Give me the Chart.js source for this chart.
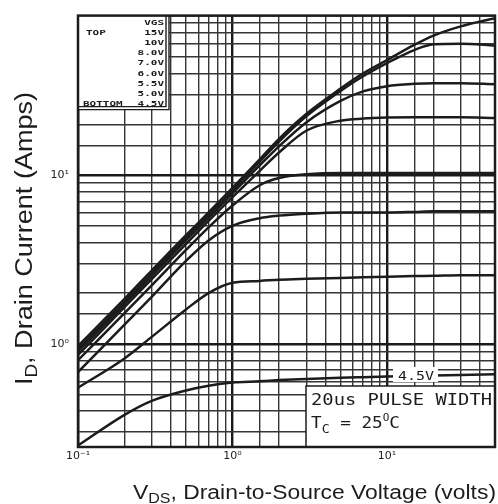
<!DOCTYPE html>
<html>
<head>
<meta charset="utf-8">
<script src="https://cdn.jsdelivr.net/npm/chart.js@4.4.1/dist/chart.umd.min.js"></script>
<style>
    html, body { margin: 0; padding: 0; background: #fff; }
    #outputChart { display: block; }
</style>
</head>
<body>
<canvas id="outputChart" width="498" height="504"></canvas>
<script>
"use strict";

/** DATA */

// Drain-to-source voltage (volts)
const VDS = [0.1, 0.2, 0.3, 0.5, 0.7, 1, 1.5, 2, 3, 5, 7, 10, 15, 20, 30, 50];

// Drain current (amps), one list per gate voltage
const ID_15V  = [0.97, 1.85, 2.72, 4.4, 6.0, 8.4, 12.4, 16.4, 23, 32.5, 40, 48, 59, 67, 76, 85];
const ID_10V  = [0.93, 1.78, 2.62, 4.25, 5.8, 8.1, 12.0, 15.8, 22.3, 31.5, 38.5, 46, 55, 59.5, 60, 58.5];
const ID_8V   = [0.9, 1.72, 2.53, 4.1, 5.6, 7.8, 11.4, 14.8, 20.5, 27.5, 31.3, 33.6, 34.7, 35, 35, 34.5];
const ID_7V   = [0.86, 1.65, 2.42, 3.9, 5.35, 7.4, 10.6, 13.6, 18.3, 21, 21.6, 21.9, 22, 22, 22, 21.8];
const ID_6V   = [0.8, 1.52, 2.22, 3.6, 4.9, 6.6, 8.7, 9.6, 10.1, 10.3, 10.3, 10.3, 10.3, 10.3, 10.3, 10.3];
const ID_5V5  = [0.68, 1.3, 1.9, 3.1, 4.1, 5.0, 5.55, 5.75, 5.9, 6.0, 6.0, 6.0, 6.05, 6.1, 6.1, 6.1];
const ID_5V   = [0.55, 0.82, 1.1, 1.6, 2.0, 2.3, 2.36, 2.4, 2.43, 2.46, 2.48, 2.5, 2.52, 2.53, 2.55, 2.55];
const ID_4V5  = [0.25, 0.38, 0.46, 0.53, 0.565, 0.59, 0.6, 0.61, 0.62, 0.63, 0.635, 0.64, 0.645, 0.65, 0.655, 0.66];

const SERIES = [ID_15V, ID_10V, ID_8V, ID_7V, ID_6V, ID_5V5, ID_5V, ID_4V5];
const VGS_LABELS = ['15V', '10V', '8.0V', '7.0V', '6.0V', '5.5V', '5.0V', '4.5V'];

// Axis ranges
const X_MIN = 0.1;
const X_MAX = 50;
const Y_MIN = 0.245;
const Y_MAX = 88;

const INK = '#1c1c1c';
const GRID = '#363636';


/** HELPERS */

const isDecade = v => Math.abs(Math.log10(v) - Math.round(Math.log10(v))) < 1e-9;

const SUP = { '-': '\u207B', '0': '\u2070', '1': '\u00B9', '2': '\u00B2', '3': '\u00B3' };
const decadeLabel = v => '10' + String(Math.round(Math.log10(v))).split('').map(c => SUP[c]).join('');

// Draw pieces of text one after the other, stretched to a given run length
const drawTextRun = (ctx, pieces, length, family) => {
    const fontOf = p => `${ p.weight || 'normal' } ${ p.size }px ${ family }`;
    const widthOf = p => { ctx.font = fontOf(p); return ctx.measureText(p.text).width; };
    const natural = pieces.reduce((sum, p) => sum + widthOf(p), 0);
    ctx.save();
    ctx.scale(length ? length / natural : 1, 1);
    let cx = 0;
    pieces.forEach(p => {
        ctx.font = fontOf(p);
        ctx.fillText(p.text, cx, p.dy || 0);
        cx += ctx.measureText(p.text).width;
    });
    ctx.restore();
};

// Wide, squat plotter-style text for the legend box
const drawSquat = (ctx, text, x, y, align) => {
    ctx.save();
    ctx.translate(x, y);
    ctx.scale(1, 0.62);
    ctx.textAlign = align;
    ctx.fillText(text, 0, 0);
    ctx.restore();
};


/** ANNOTATIONS PLUGIN */

const datasheetPlugin = {
    id: 'datasheet',
    beforeDraw: chart => {
        const ctx = chart.ctx;
        ctx.save();
        ctx.fillStyle = '#ffffff';
        ctx.fillRect(0, 0, chart.width, chart.height);
        ctx.restore();
    },
    afterDatasetsDraw: chart => {
        const ctx = chart.ctx;
        const area = chart.chartArea;
        ctx.save();
        ctx.fillStyle = INK;
        ctx.strokeStyle = INK;
        ctx.textBaseline = 'alphabetic';

        // Gate voltage legend box (top left)
        const bx = area.left, by = area.top, bw = 91, bh = 94;
        ctx.fillStyle = '#ffffff';
        ctx.fillRect(bx, by, bw, bh);
        ctx.lineWidth = 1.4;
        ctx.beginPath();
        ctx.moveTo(bx + bw - 3, by); ctx.lineTo(bx + bw - 3, by + bh - 3); ctx.lineTo(bx, by + bh - 3);
        ctx.moveTo(bx + bw, by); ctx.lineTo(bx + bw, by + bh); ctx.lineTo(bx, by + bh);
        ctx.stroke();

        ctx.fillStyle = INK;
        ctx.font = 'bold 11px "DejaVu Sans Mono"';
        ctx.textBaseline = 'middle';
        drawSquat(ctx, 'VGS', bx + 86, by + 8, 'right');
        VGS_LABELS.forEach((label, i) => drawSquat(ctx, label, bx + 86, by + 17.5 + i * 10.2, 'right'));
        drawSquat(ctx, 'TOP', bx + 8, by + 17.5, 'left');
        drawSquat(ctx, 'BOTTOM', bx + 5, by + 17.5 + 7 * 10.2, 'left');

        // Pulse width box (bottom right)
        const px = 306, py = 386;
        ctx.fillStyle = '#ffffff';
        ctx.fillRect(px, py, area.right - px, area.bottom - py);
        ctx.lineWidth = 1.5;
        ctx.beginPath();
        ctx.moveTo(px, area.bottom); ctx.lineTo(px, py); ctx.lineTo(area.right, py);
        ctx.stroke();

        ctx.fillStyle = INK;
        ctx.textBaseline = 'alphabetic';
        ctx.save();
        ctx.translate(311, 405);
        drawTextRun(ctx, [{ text: '20us PULSE WIDTH', size: 16 }], 181, '"DejaVu Sans Mono"');
        ctx.restore();
        ctx.save();
        ctx.translate(311, 428);
        drawTextRun(ctx, [
            { text: 'T', size: 16 },
            { text: 'C', size: 12, dy: 5 },
            { text: ' = 25', size: 16 },
            { text: 'O', size: 10, dy: -7 },
            { text: 'C', size: 16 },
        ], 89, '"DejaVu Sans Mono"');
        ctx.restore();

        // Label on the bottom curve
        ctx.fillStyle = '#ffffff';
        ctx.fillRect(393, 367, 45, 15);
        ctx.fillStyle = INK;
        ctx.save();
        ctx.translate(398, 380);
        drawTextRun(ctx, [{ text: '4.5V', size: 13 }], 36, '"DejaVu Sans Mono"');
        ctx.restore();

        // Plot frame
        ctx.lineWidth = 2.5;
        ctx.strokeRect(area.left, area.top, area.right - area.left, area.bottom - area.top);

        // Axis titles
        ctx.save();
        ctx.translate(133, 499);
        drawTextRun(ctx, [
            { text: 'V', size: 20 },
            { text: 'DS', size: 14, dy: 4 },
            { text: ', Drain-to-Source Voltage (volts)', size: 20 },
        ], 363, '"Liberation Sans"');
        ctx.restore();

        ctx.save();
        ctx.translate(32, 385);
        ctx.rotate(-Math.PI / 2);
        drawTextRun(ctx, [
            { text: 'I', size: 23 },
            { text: 'D', size: 16, dy: 5 },
            { text: ', Drain Current (Amps)', size: 23 },
        ], 293, '"Liberation Sans"');
        ctx.restore();

        ctx.restore();
    }
};


/** INITIALIZE CHART */

const gridStyle = {
    color: ctx => ctx.tick && isDecade(ctx.tick.value) ? '#1a1a1a' : GRID,
    lineWidth: ctx => ctx.tick && isDecade(ctx.tick.value) ? 2.4 : 1.4,
    drawTicks: false,
};

const tickFont = { family: '"DejaVu Sans"', size: 11 };

const outputChart = new Chart(document.getElementById('outputChart').getContext('2d'), {
    type: 'line',
    data: {
        datasets: SERIES.map((values, i) => ({
            label: VGS_LABELS[i],
            data: VDS.map((x, j) => ({ x, y: values[j] })),
            borderColor: INK,
            borderWidth: 2.5,
            pointRadius: 0,
            cubicInterpolationMode: 'monotone',
            fill: false,
        }))
    },
    options: {
        responsive: false,
        animation: false,
        layout: { padding: { top: 7, right: 1, left: 0, bottom: 0 } },
        plugins: {
            legend: { display: false },
            tooltip: { enabled: false },
        },
        scales: {
            x: {
                type: 'logarithmic',
                min: X_MIN,
                max: X_MAX,
                grid: gridStyle,
                border: { display: false },
                afterFit: scale => { scale.height = 57; },
                ticks: {
                    autoSkip: false,
                    maxRotation: 0,
                    padding: 3,
                    color: '#222',
                    font: tickFont,
                    callback: value => isDecade(value) ? decadeLabel(value) : '',
                },
            },
            y: {
                type: 'logarithmic',
                min: Y_MIN,
                max: Y_MAX,
                grid: gridStyle,
                border: { display: false },
                afterFit: scale => { scale.width = 78; },
                ticks: {
                    autoSkip: false,
                    padding: 9,
                    color: '#222',
                    font: tickFont,
                    callback: value => isDecade(value) ? decadeLabel(value) : '',
                },
            },
        },
    },
    plugins: [datasheetPlugin],
});
</script>
</body>
</html>
